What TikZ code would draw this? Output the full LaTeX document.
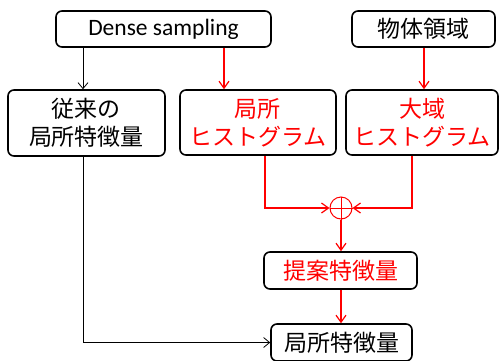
\documentclass[tikz,border=0pt]{standalone}
\usepackage{fontspec}
\setmainfont{Carlito}
\newfontfamily\jp{Noto Sans CJK JP}
\usetikzlibrary{arrows.meta}
\definecolor{pred}{RGB}{255,0,0}
\begin{document}
\begin{tikzpicture}[x=1pt,y=-1pt,
  box/.style={draw=black, line width=1.6pt, rounded corners=6pt, inner sep=0pt, align=center,
    font=\jp\fontsize{23}{28}\selectfont},
  blk/.style={draw=black, line width=0.8pt, -{Straight Barb[length=6pt,width=10pt]}},
  rln/.style={draw=pred, line width=1.2pt},
  rarr/.style={rln, -{Straight Barb[length=7pt,width=10pt]}}]
\path[use as bounding box, clip] (0,0) rectangle (499,360);
\fill[white] (0,0) rectangle (499,360);
\node[box, minimum width=215, minimum height=36, font=\fontsize{23.5}{28}\selectfont] (dense) at (163.5,29) {Dense sampling};
\node[box, minimum width=143, minimum height=36] (obj) at (423.5,29) {物体領域};
\node[box, minimum width=157, minimum height=66] (conv) at (86.5,123) {従来の\\局所特徴量};
\node[box, minimum width=156, minimum height=65, text=pred] (lhist) at (258,122.5) {局所\\ヒストグラム};
\node[box, minimum width=152, minimum height=65, text=pred] (ghist) at (422,122.5) {大域\\ヒストグラム};
\node[draw=pred, circle, minimum size=22, inner sep=0pt, line width=1pt] (plus) at (341,208) {};
\draw[pred, line width=1pt] (plus.north) -- (plus.south) (plus.west) -- (plus.east);
\node[box, minimum width=153, minimum height=37, text=pred] (prop) at (340.5,270.5) {提案特徴量};
\node[box, minimum width=141, minimum height=37] (feat) at (341.5,342.5) {局所特徴量};
\coordinate (xa) at (83,0);
\coordinate (xb) at (224,0);
\coordinate (xc) at (265,0);
\coordinate (xd) at (412,0);
\coordinate (xe) at (424,0);
\draw[blk] (dense.south -| xa) -- (conv.north -| xa);
\draw[rarr] (dense.south -| xb) -- (lhist.north -| xb);
\draw[rarr] (obj.south -| xe) -- (ghist.north -| xe);
\draw[rarr] (lhist.south -| xc) |- (plus.west);
\draw[rarr] (ghist.south -| xd) |- (plus.east);
\draw[rarr] (plus.south) -- (prop.north -| plus.south);
\draw[rarr] (prop.south -| plus.south) -- (feat.north -| plus.south);
\draw[blk] (conv.south -| xa) |- (feat.west);
\end{tikzpicture}
\end{document}
